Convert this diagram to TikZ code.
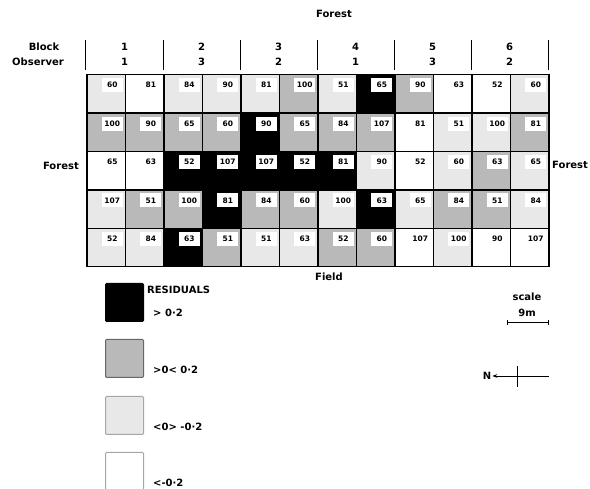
\documentclass[tikz,border=0pt]{standalone}
\usepackage{fontspec}
\setmainfont{DejaVu Sans}
\usetikzlibrary{arrows.meta, positioning}

\begin{document}
\begin{tikzpicture}[
		x=1pt, y=-1pt,
		every node/.style={font=\bfseries\fontsize{10}{12}\selectfont, inner sep=1pt},
		cell/.style={draw, line width=1.5pt, minimum width=38.5pt, minimum height=38.4pt, inner sep=0pt, anchor=north west},
		blk/.style={fill=black},
		drk/.style={fill=gray!55},
		lgt/.style={fill=gray!18},
		wht/.style={fill=white},
		val/.style={fill=white, anchor=north east, minimum width=21pt, minimum height=14pt, inner sep=0pt, font=\bfseries\fontsize{7.5}{9}\selectfont},
		key/.style={draw=gray!70, line width=1pt, minimum width=38pt, minimum height=38pt, inner sep=0pt, anchor=north west, rounded corners=1pt},
		keytext/.style={anchor=west}
		]
		
		\useasboundingbox (0,0) rectangle (590,489);
		
		% header
		\node (forest-n) at (334,14) {Forest};
		\node (block) at (44,47) {Block};
		\node (observer) at (38,62) {Observer};
		\foreach \x in {85,163,240,317,394,471,548}
			\draw[line width=1pt] (\x,40) -- (\x,70);
		\foreach \b/\o [count=\i] in {1/1,2/3,3/2,4/1,5/3,6/2} {
			\node (block-\i) at ({124.5+(\i-1)*77},47) {\b};
			\node (obs-\i) at ({124.5+(\i-1)*77},62) {\o};
		}
		
		% plots
		\foreach \line [count=\r] in {
			{lgt/60,wht/81,lgt/84,lgt/90,lgt/81,drk/100,lgt/51,blk/65,drk/90,wht/63,wht/52,lgt/60},
			{drk/100,drk/90,drk/65,drk/60,blk/90,drk/65,drk/84,drk/107,wht/81,lgt/51,lgt/100,drk/81},
			{wht/65,wht/63,blk/52,blk/107,blk/107,blk/52,blk/81,lgt/90,wht/52,lgt/60,drk/63,lgt/65},
			{lgt/107,drk/51,drk/100,blk/81,drk/84,drk/60,lgt/100,blk/63,lgt/65,drk/84,drk/51,lgt/84},
			{lgt/52,lgt/84,blk/63,drk/51,lgt/51,lgt/63,drk/52,drk/60,wht/107,lgt/100,wht/90,wht/107}} {
			\foreach \kind/\num [count=\c] in \line {
				\node[cell, \kind] (cell-\r-\c) at ({86+(\c-1)*38.5},{74+(\r-1)*38.4}) {};
				\node[val] (val-\r-\c) at ([xshift=-3pt, yshift=-4pt]cell-\r-\c.north east) {\num};
			}
		}
		
		\node[anchor=east] (forest-w) at (80,166) {Forest};
		\node[anchor=west] (forest-e) at (551,165) {Forest};
		\node (field) at (329,277) {Field};
		
		% legend
		\node[key, draw=black, fill=black] (key-blk) at (105,283) {};
		\node[key, draw=gray!80!black, fill=gray!55] (key-drk) at (105,339) {};
		\node[key, fill=gray!18] (key-lgt) at (105,396) {};
		\node[key, fill=white] (key-wht) at (105,452) {};
		\node[keytext] (residuals) at (146,290) {RESIDUALS};
		\node[keytext] (txt-blk) at (152,313) {> 0·2};
		\node[keytext] (txt-drk) at (152,370) {>0< 0·2};
		\node[keytext] (txt-lgt) at (152,427) {<0> -0·2};
		\node[keytext] (txt-wht) at (152,483) {<-0·2};
		
		% scale and north
		\node (scale) at (527,297) {scale};
		\node (metres) at (527,313) {9m};
		\coordinate (bar-l) at (507,323);
		\coordinate (bar-r) at (549,323);
		\draw[line width=1pt, {Bar[width=5pt]}-{Bar[width=5pt]}] (bar-l) -- (bar-r);
		\node (north) at (487,376) {N};
		\coordinate (n-tail) at (549,376);
		\draw[line width=0.8pt, -{Stealth[length=5pt]}] (n-tail) -- (north);
		\draw[line width=0.6pt] (517,366) -- (517,387);
		
	\end{tikzpicture}
\end{document}
